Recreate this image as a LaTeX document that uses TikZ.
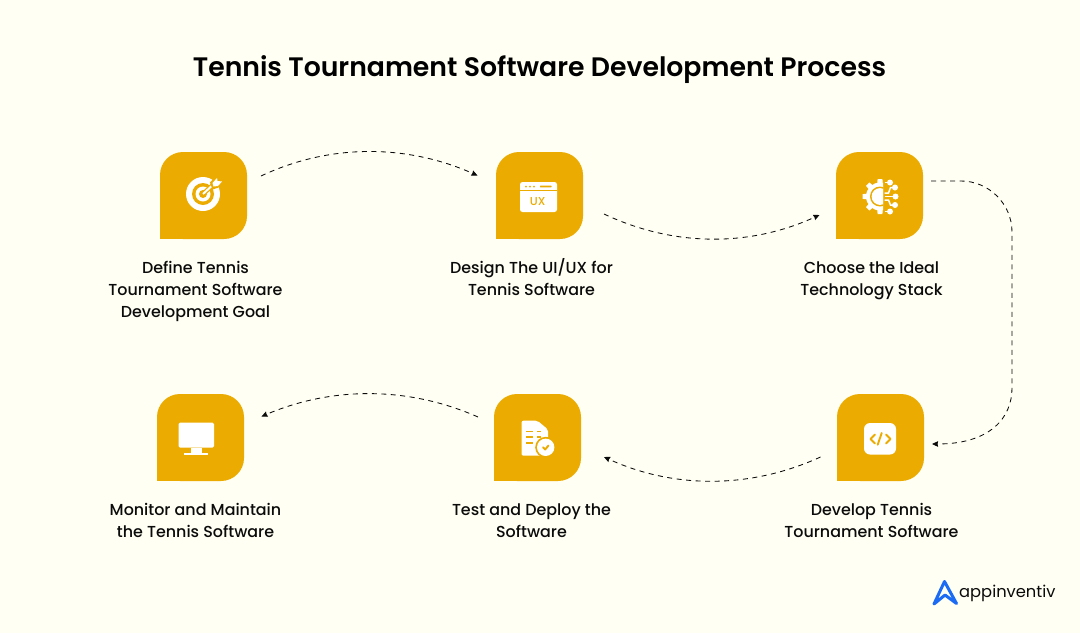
\documentclass[tikz,border=0pt]{standalone}
\usepackage{fontspec}
\setmainfont{Poppins}[FontFace={sb}{n}{Font=* SemiBold},FontFace={md}{n}{Font=* Medium}]
\usetikzlibrary{arrows.meta,calc}
\definecolor{pagebg}{HTML}{FFFFF3}
\definecolor{tilecol}{HTML}{EBAB00}
\definecolor{inkcol}{HTML}{0B0B0B}
\definecolor{logoblue}{HTML}{1B6BF5}
\tikzset{
 tile/.style={fill=tilecol,rounded corners=23pt,minimum size=87pt,inner sep=0pt,outer sep=0pt},
 label/.style={align=center,font=\fontseries{md}\fontsize{15.9}{22}\selectfont,text=inkcol,inner sep=0pt},
 flow/.style={draw=inkcol,line width=0.85pt,dash pattern=on 5pt off 4.5pt,-{Stealth[length=6pt,width=5.5pt,inset=0.5pt]}},
 ic/.style={fill=white,draw=none},
 ich/.style={fill=tilecol,draw=none},
 icl/.style={draw=tilecol,line width=1.9pt,line cap=round,line join=round},
 icw/.style={draw=white,line width=1.5pt},
}
\begin{document}
\begin{tikzpicture}[x=1pt,y=-1pt]
\fill[pagebg] (0,0) rectangle (1080,633);
\useasboundingbox (0,0) rectangle (1080,633);
\node[font=\fontseries{sb}\fontsize{26.7}{32}\selectfont,text=black,inner sep=0pt] (title) at (539.5,70) {Tennis Tournament Software Development Process};
\node[tile] (t1) at (203.5,195.5) {};
\node[tile] (t2) at (539.5,195.5) {};
\node[tile] (t3) at (879.5,195.5) {};
\node[tile] (t4) at (880.5,437.5) {};
\node[tile] (t5) at (537.5,437.5) {};
\node[tile] (t6) at (200.5,437.5) {};
\fill[tilecol] (160,239) rectangle (185,214);
\fill[tilecol] (496,239) rectangle (521,214);
\fill[tilecol] (836,239) rectangle (861,214);
\fill[tilecol] (837,481) rectangle (862,456);
\fill[tilecol] (494,481) rectangle (519,456);
\fill[tilecol] (157,481) rectangle (182,456);
\node[label] (l1) at (195.5,291) {Define Tennis\\Tournament Software\\Development Goal};
\node[label] (l2) at (531.5,277) {Design The UI/UX for\\Tennis Software};
\node[label] (l3) at (871.5,281) {Choose the Ideal\\Technology Stack};
\node[label] (l4) at (871.5,520) {Develop Tennis\\Tournament Software};
\node[label] (l5) at (531.5,521) {Test and Deploy the\\Software};
\node[label] (l6) at (195.5,520) {Monitor and Maintain\\the Tennis Software};
% connectors
\coordinate (c1s) at ($(t1.east)+(14,-19.5)$);
\coordinate (c1e) at ($(t2.west)+(-18.5,-20)$);
\coordinate (c2s) at ($(t2.east)+(21,18.5)$);
\coordinate (c2e) at ($(t3.west)+(-16.5,19.5)$);
\coordinate (c3s) at ($(t3.east)+(8,-14.5)$);
\coordinate (c3e) at ($(t4.east)+(8,6.5)$);
\coordinate (c4s) at ($(t4.west)+(-16.5,19.5)$);
\coordinate (c4e) at ($(t5.east)+(23,19.5)$);
\coordinate (c5s) at ($(t5.west)+(-16,-20.5)$);
\coordinate (c5e) at ($(t6.east)+(17.5,-21)$);
\draw[flow] (c1s) .. controls ($(c1s)+(70,-33)$) and ($(c1e)+(-70,-31)$) .. (c1e);
\draw[flow] (c2s) .. controls ($(c2s)+(70,33)$) and ($(c2e)+(-70,32)$) .. (c2e);
\draw[flow] (c3s) -- ++(30,0) .. controls ++(28,0) and (1012,204) .. (1012,232) -- (1012,388) .. controls (1012,418) and (990,444) .. (c3e);
\draw[flow] (c4s) .. controls ($(c4s)+(-70,32)$) and ($(c4e)+(70,32)$) .. (c4e);
\draw[flow] (c5s) .. controls ($(c5s)+(-70,-31)$) and ($(c5e)+(70,-30)$) .. (c5e);
% icon 1 target
\begin{scope}[shift={(t1.center)}]
\fill[ic] (-0.5,-1.5) circle (17);
\fill[ich] (-0.5,-1.5) circle (11);
\fill[ic] (-0.5,-1.5) circle (7.5);
\fill[ich] (-0.5,-1.5) circle (4);
\draw[tilecol,line width=4.5pt] (-0.5,-1.5) -- (11,-12);
\draw[white,line width=2pt] (-0.5,-1.5) -- (12,-13);
\fill[ich] (6.5,-13) -- (13,-20) -- (14,-16) -- (21,-15.5) -- (15,-8) -- (9,-6) -- cycle;
\fill[ic] (9,-12.5) -- (13.5,-17.5) -- (14,-14.5) -- (18.5,-14) -- (14.5,-9.5) -- (10,-9) -- cycle;
\end{scope}
% icon 2 window
\begin{scope}[shift={(t2.center)}]
\fill[ic,rounded corners=2.5pt] (-19.5,-13.5) rectangle (17.5,16.5);
\fill[ich] (-19.5,-5.4) rectangle (17.5,-4.6);
\foreach \xx in {-13.5,-9.5,-5.5} \fill[ich] (\xx,-9) circle (1);
\fill[ich,rounded corners=.5pt] (0.5,-10) rectangle (12,-8.2);
\node[font=\fontseries{md}\fontsize{11.5}{12}\selectfont,text=tilecol,inner sep=0pt] (uxt) at (-1.8,6.5) {UX};
\end{scope}
% icon 3 gear circuit
\begin{scope}[shift={(t3.center)}]
\begin{scope}
\clip (-20,-20) rectangle (3.5,22);
\fill[ic] (0.5,1) circle (14);
\foreach \ang in {90,135,180,225,270}
  \fill[ic,shift={(0.5,1)},rotate=\ang] (10,-3) -- (17.5,-2.4) -- (17.5,2.4) -- (10,3) -- cycle;
\fill[ich] (0.5,1) circle (10);
\fill[ic] (0.5,1) circle (8.4);
\end{scope}
\draw[icw] (5,-13) -- (10.5,-13);
\draw[icw] (5,-2.5) -- (9,-2.5) -- (11,-8) -- (15.5,-8);
\draw[icw] (5,1) -- (16,1);
\draw[icw] (5,4.5) -- (9,4.5) -- (11,9.5) -- (15.5,9.5);
\draw[icw] (5,16) -- (10.5,16);
\foreach \p in {(10.5,-13),(15.5,-8),(16,1),(15.5,9.5),(10.5,16)} \fill[ic] \p circle (3);
\end{scope}
% icon 4 code
\begin{scope}[shift={(t4.center)}]
\fill[ic,rounded corners=6pt] (-16.5,-14.5) rectangle (15.5,17);
\draw[icl] (-5.5,-3) -- (-10,1.5) -- (-5.5,6);
\draw[icl] (5.5,-3) -- (10,1.5) -- (5.5,6);
\draw[icl] (1.2,-4.5) -- (-2.8,7.2);
\end{scope}
% icon 5 doc
\begin{scope}[shift={(t5.center)}]
\fill[ic,rounded corners=2pt] (-16,-16.8) -- (0,-16.8) -- (10.5,-8) -- (10.5,18.2) -- (-16,18.2) -- cycle;
\foreach \yy in {-6,-0.5,5.5} \fill[ich] (-12,\yy-.9) rectangle (-5,\yy+.9);
\foreach \yy in {-6,-0.5} \fill[ich] (-1,\yy-.9) rectangle (3,\yy+.9);
\fill[ich] (8.2,9.8) circle (10.5);
\fill[ic] (8.2,9.8) circle (8.7);
\draw[icl] (5.5,9.8) -- (7.7,12) -- (11,8);
\end{scope}
% icon 6 monitor
\begin{scope}[shift={(t6.center)}]
\fill[ic,rounded corners=1.5pt] (-22,-15) rectangle (13.5,10);
\fill[ic] (-10,10) rectangle (1,15);
\fill[ic] (-16.5,15.3) rectangle (7.8,17.5);
\end{scope}
% logo
\draw[logoblue,line width=3pt,line cap=round,line join=round] (934,604) -- (944.5,581.5) -- (956.5,603.5) -- (945,595) -- cycle;
\node[font=\fontsize{16.3}{20}\selectfont,text=inkcol,inner sep=0pt,anchor=base west] (logo) at (959,597.5) {appinventiv};
\end{tikzpicture}
\end{document}
